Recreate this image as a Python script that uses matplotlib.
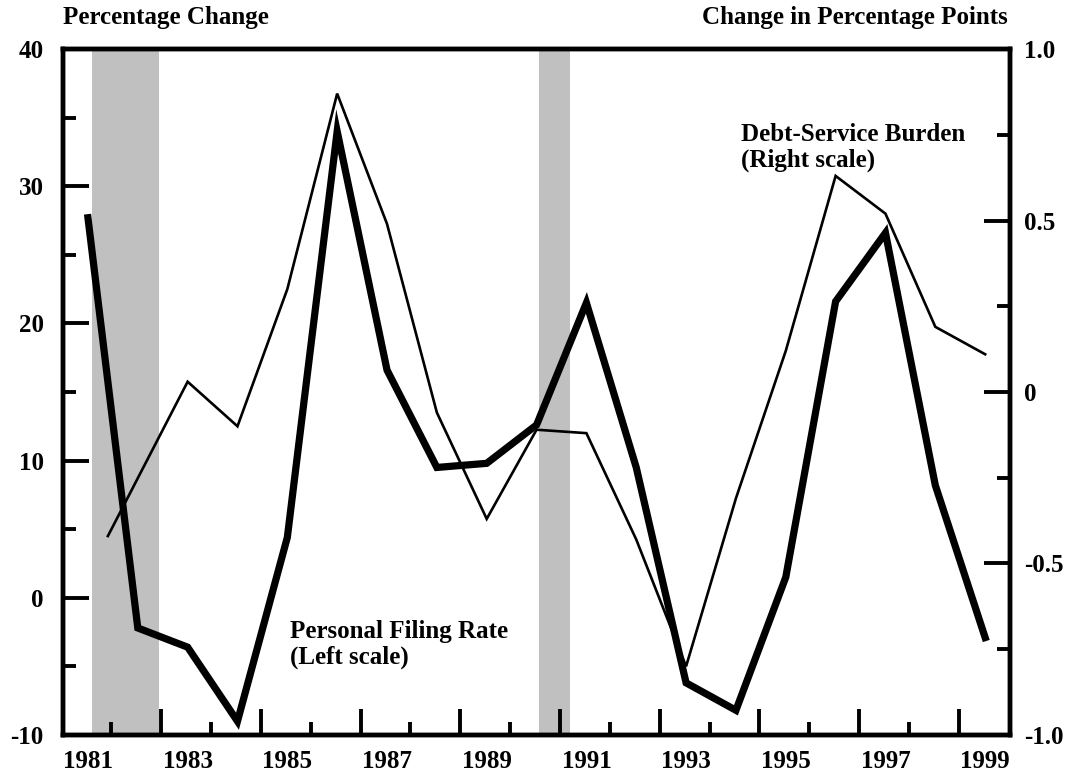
import matplotlib
matplotlib.use('Agg')
import matplotlib.pyplot as plt
from matplotlib.ticker import FixedLocator

plt.rcParams['font.family'] = 'Liberation Serif'
plt.rcParams['font.weight'] = 'bold'

# personal filing rate, % change (left scale)
years = [1981, 1982, 1983, 1984, 1985, 1986, 1987, 1988, 1989, 1990,
         1991, 1992, 1993, 1994, 1995, 1996, 1997, 1998, 1999]
filing = [27.7, -2.2, -3.6, -9.0, 4.4, 34.0, 16.6, 9.5, 9.8, 12.6,
          21.5, 9.5, -6.2, -8.2, 1.5, 21.6, 26.6, 8.2, -2.9]

# debt-service burden, change in pct points (right scale)
debt_years = [1981.4, 1983, 1984, 1985, 1986, 1987, 1988, 1989, 1990,
              1991, 1992, 1993, 1994, 1995, 1996, 1997, 1998, 1999]
debt = [-0.42, 0.03, -0.10, 0.30, 0.87, 0.49, -0.06, -0.37, -0.11,
        -0.12, -0.43, -0.80, -0.31, 0.12, 0.63, 0.52, 0.19, 0.11]

recessions = [(1981.08, 1982.42), (1990.04, 1990.68)]
year_labels = [1981, 1983, 1985, 1987, 1989, 1991, 1993, 1995, 1997, 1999]

fig = plt.figure(figsize=(10.7, 7.78), dpi=100)
ax = fig.add_axes([0.0589, 0.0553, 0.8851, 0.8817])
ax2 = ax.twinx()

for a, b in recessions:
    ax.axvspan(a, b, color='#c0c0c0', lw=0, zorder=0)

ax.plot(years, filing, color='black', lw=5.2, solid_joinstyle='miter', zorder=3)
ax2.plot(debt_years, debt, color='black', lw=1.9, solid_joinstyle='miter', zorder=3)

ax.set_xlim(1980.5, 1999.5)
ax.set_ylim(-10, 40)
ax2.set_ylim(-1.0, 1.0)

# x ticks sit on year boundaries: long on even, short on odd
ax.xaxis.set_major_locator(FixedLocator([y + 0.47 for y in range(1982, 1999, 2)]))
ax.xaxis.set_minor_locator(FixedLocator([y + 0.47 for y in range(1981, 1999, 2)]))
ax.tick_params(axis='x', which='major', direction='in', length=19, width=2.8, labelbottom=False)
ax.tick_params(axis='x', which='minor', direction='in', length=9.5, width=2.8)

# year labels centred on the data years
sec = ax.secondary_xaxis('bottom')
sec.set_xticks(year_labels)
sec.set_xticklabels([str(y) for y in year_labels], fontsize=18, fontweight='bold')
sec.tick_params(axis='x', length=0, pad=11)
sec.spines['bottom'].set_visible(False)

ax.set_yticks([-10, 0, 10, 20, 30, 40])
ax.set_yticklabels(['-10', '0', '10', '20', '30', '40'], fontsize=18)
ax.yaxis.set_minor_locator(FixedLocator([-5, 5, 15, 25, 35]))
ax.tick_params(axis='y', which='major', direction='in', length=19, width=2.8, pad=14)
ax.tick_params(axis='y', which='minor', direction='in', length=9.5, width=2.8)

ax2.set_yticks([-1.0, -0.5, 0, 0.5, 1.0])
ax2.set_yticklabels(['-1.0', '-0.5', '0', '0.5', '1.0'], fontsize=18)
ax2.yaxis.set_minor_locator(FixedLocator([-0.75, -0.25, 0.25, 0.75]))
ax2.tick_params(axis='y', which='major', direction='in', length=19, width=2.8, pad=10)
ax2.tick_params(axis='y', which='minor', direction='in', length=9.5, width=2.8)

for a in (ax, ax2):
    for s in a.spines.values():
        s.set_linewidth(3.2)

fig.text(0.0589, 0.977, 'Percentage Change', fontsize=18, fontweight='bold',
         ha='left', va='center')
fig.text(0.942, 0.977, 'Change in Percentage Points', fontsize=18, fontweight='bold',
         ha='right', va='center')

ax.text(1994.1, 34.6, 'Debt-Service Burden\n(Right scale)', fontsize=18,
        fontweight='bold', ha='left', va='top', linespacing=1.15)
ax.text(1985.05, -1.6, 'Personal Filing Rate\n(Left scale)', fontsize=18,
        fontweight='bold', ha='left', va='top', linespacing=1.15)

fig.savefig('out.png', dpi=100)
